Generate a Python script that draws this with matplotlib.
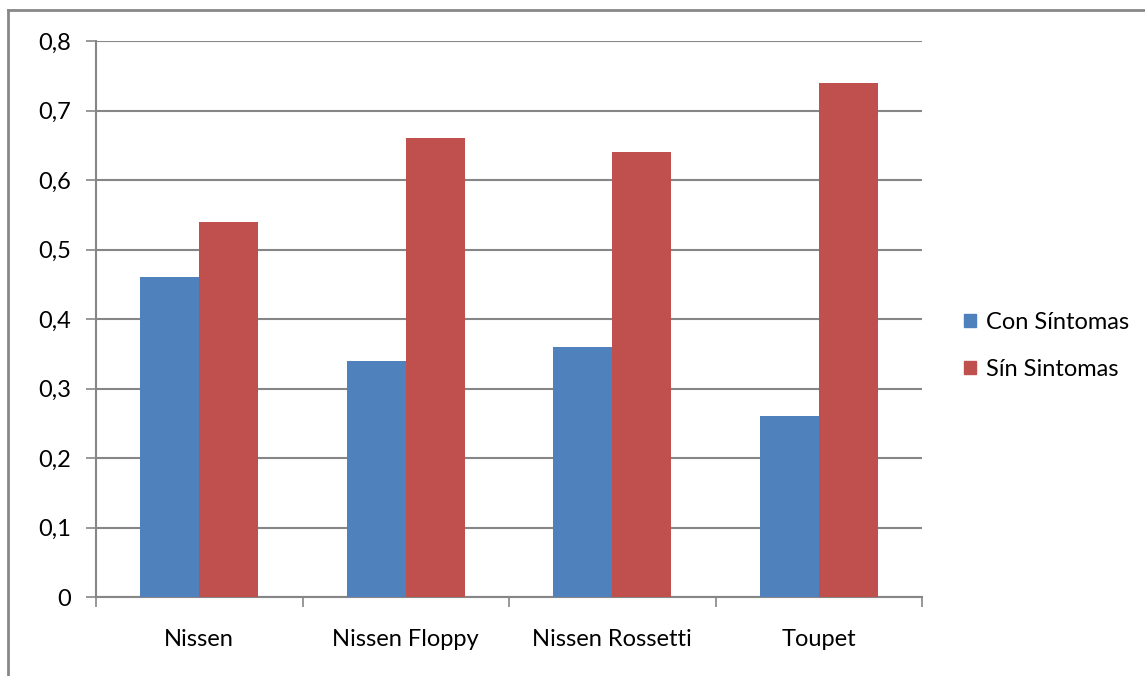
import matplotlib
matplotlib.use('Agg')

from matplotlib import pyplot as plt
from matplotlib.lines import Line2D
from matplotlib.patches import Patch
import numpy as np

categories = ['Nissen', 'Nissen Floppy', 'Nissen Rossetti', 'Toupet']
con_sintomas = [0.46, 0.34, 0.36, 0.26]
sin_sintomas = [0.54, 0.66, 0.64, 0.74]
series_names = ['Con Síntomas', 'Sín Sintomas']
yticks = [0, 0.1, 0.2, 0.3, 0.4, 0.5, 0.6, 0.7, 0.8]

blue = '#4F81BD'
red = '#C0504D'
grey = '#868686'

plt.rcParams['font.family'] = ['Lato', 'DejaVu Sans']
fs = 17

fig = plt.figure(figsize=(11.45, 6.76), dpi=100)
ax = fig.add_axes([96 / 1145, 79 / 676, 826 / 1145, 556 / 676])

x = np.arange(len(categories))
w = 0.285
ax.bar(x - w / 2, con_sintomas, w, color=blue, zorder=3)
ax.bar(x + w / 2, sin_sintomas, w, color=red, zorder=3)

ax.set_xlim(-0.5, len(categories) - 0.5)
ax.set_ylim(0, 0.8)
ax.set_yticks(yticks)
ax.set_yticklabels([('%g' % v).replace('.', ',') for v in yticks])
ax.yaxis.grid(True, color=grey, linewidth=1.5, zorder=0)

ax.set_xticks(x)
ax.set_xticklabels(categories)
ax.set_xticks(np.arange(len(categories) + 1) - 0.5, minor=True)
ax.tick_params(axis='x', which='major', length=0, pad=23, labelsize=fs)
ax.tick_params(axis='x', which='minor', length=7, width=1.2, color=grey, direction='out')
ax.tick_params(axis='y', length=7, width=1.2, color=grey, pad=11, labelsize=fs)

for s in ['top', 'right']:
    ax.spines[s].set_visible(False)
for s in ['left', 'bottom']:
    ax.spines[s].set_color(grey)
    ax.spines[s].set_linewidth(1.5)

# outer chart border (only top and left edges fall inside the image)
fig.add_artist(Line2D([8 / 1145, 8 / 1145], [0, 1 - 10 / 676], color='#878787', linewidth=2))
fig.add_artist(Line2D([8 / 1145, 1], [1 - 10 / 676, 1 - 10 / 676], color='#878787', linewidth=2))

handles = [Patch(color=blue), Patch(color=red)]
fig.legend(handles, series_names, loc='center left', bbox_to_anchor=(943 / 1145, 1 - 346 / 676),
           frameon=False, fontsize=fs, handlelength=0.5, handleheight=0.5,
           handletextpad=0.4, labelspacing=1.1)

plt.savefig('out.png', dpi=100)
